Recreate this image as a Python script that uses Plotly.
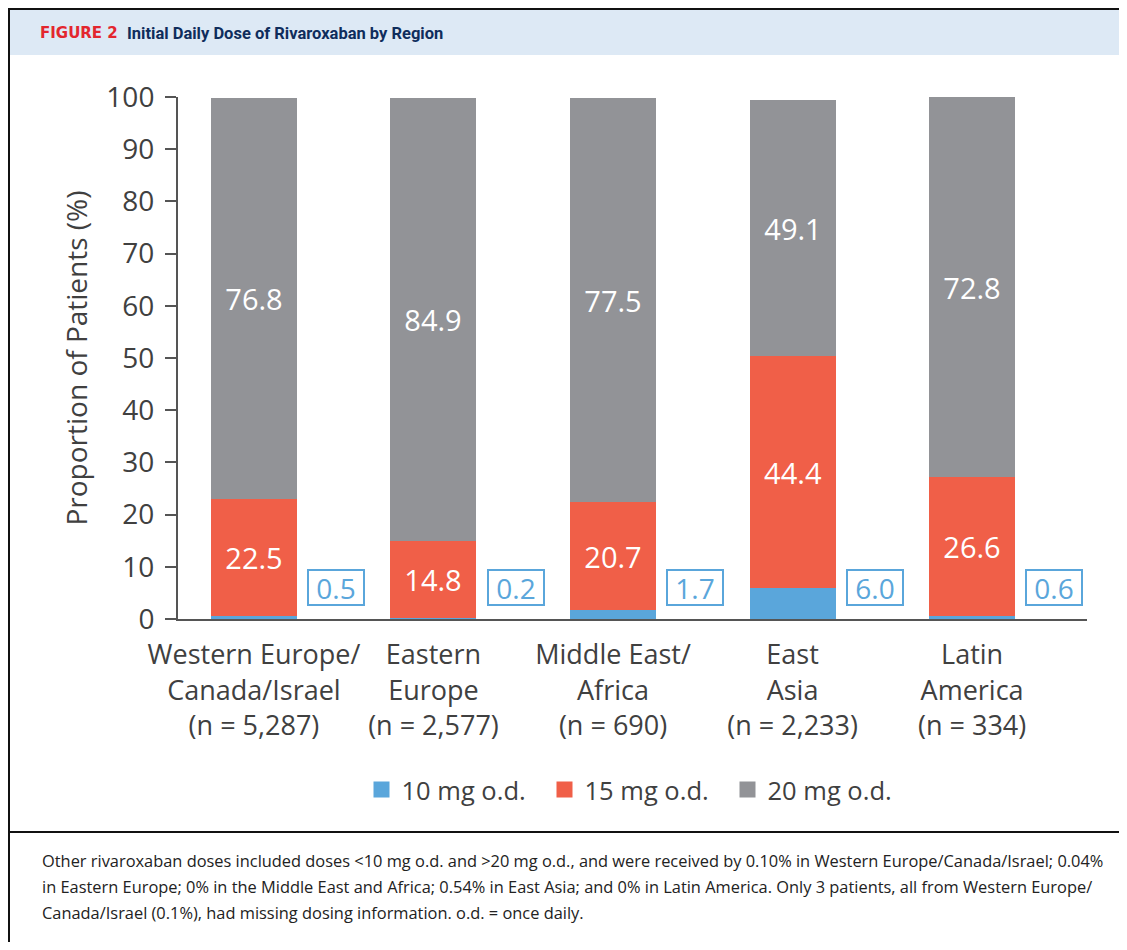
import plotly.graph_objects as go

# ---------------- data ----------------
regions = [
    "Western Europe/<br>Canada/Israel<br>(n = 5,287)",
    "Eastern<br>Europe<br>(n = 2,577)",
    "Middle East/<br>Africa<br>(n = 690)",
    "East<br>Asia<br>(n = 2,233)",
    "Latin<br>America<br>(n = 334)",
]
dose_10mg = [0.5, 0.2, 1.7, 6.0, 0.6]
dose_15mg = [22.5, 14.8, 20.7, 44.4, 26.6]
dose_20mg = [76.8, 84.9, 77.5, 49.1, 72.8]
series_names = ["10 mg o.d.", "15 mg o.d.", "20 mg o.d."]
y_ticks = [0, 10, 20, 30, 40, 50, 60, 70, 80, 90, 100]

caption_lines = [
    "Other rivaroxaban doses included doses &lt;10 mg o.d. and &gt;20 mg o.d., and were received by 0.10% in Western Europe/Canada/Israel; 0.04%",
    "in Eastern Europe; 0% in the Middle East and Africa; 0.54% in East Asia; and 0% in Latin America. Only 3 patients, all from Western Europe/",
    "Canada/Israel (0.1%), had missing dosing information. o.d. = once daily.",
]

# ---------------- style ----------------
BLUE = "#5aa6db"
RED = "#f05f48"
GRAY = "#929397"
TXT = "#404040"
FONT = "Open Sans"

OFF = 8  # page body margin
W_FIG, H_FIG = 1127 - OFF, 950 - 2 * OFF
PL, PR, PT, PB = 178 - OFF, 1087 - OFF, 97 - OFF, 619 - OFF


def px2x(px):  # px in reference-image coordinates
    return (px - OFF - PL) / (PR - PL)


def py2y(py):
    return (PB - (py - OFF)) / (PB - PT)


xpos = list(range(len(regions)))
bar_w = 0.479

fig = go.Figure()
fig.add_trace(go.Bar(x=xpos, y=dose_10mg, name=series_names[0], marker=dict(color=BLUE, line=dict(width=0)),
                     width=bar_w, showlegend=False, hoverinfo="y"))
fig.add_trace(go.Bar(x=xpos, y=dose_15mg, name=series_names[1], marker=dict(color=RED, line=dict(width=0)),
                     width=bar_w, showlegend=False, text=[f"{v:.1f}" for v in dose_15mg],
                     textposition="inside", insidetextanchor="middle", textangle=0,
                     constraintext="none", textfont=dict(color="white", size=29, family=FONT)))
fig.add_trace(go.Bar(x=xpos, y=dose_20mg, name=series_names[2], marker=dict(color=GRAY, line=dict(width=0)),
                     width=bar_w, showlegend=False, text=[f"{v:.1f}" for v in dose_20mg],
                     textposition="inside", insidetextanchor="middle", textangle=0,
                     constraintext="none", textfont=dict(color="white", size=29, family=FONT)))

# legend entries (square symbols)
for nm, col in zip(series_names, [BLUE, RED, GRAY]):
    fig.add_trace(go.Scatter(x=[None], y=[None], mode="markers", name=nm,
                             marker=dict(symbol="square", size=17, color=col)))

annotations = []
# boxed 10 mg labels
for i, v in enumerate(dose_10mg):
    annotations.append(dict(x=i + 0.457, y=6.13, xref="x", yref="y", text=f"{v:.1f}",
                            showarrow=False, font=dict(color=BLUE, size=28, family=FONT),
                            bordercolor=BLUE, borderwidth=2, borderpad=1, bgcolor="white",
                            width=52, height=31, align="center", valign="middle"))

# header
annotations.append(dict(x=px2x(38), y=py2y(33), xref="paper", yref="paper", xanchor="left", yanchor="middle",
                        text="<b>FIGURE 2</b>", showarrow=False,
                        font=dict(color="#e3262e", size=15, family="DejaVu Sans")))
annotations.append(dict(x=px2x(125), y=py2y(33), xref="paper", yref="paper", xanchor="left", yanchor="middle",
                        text="<b>Initial Daily Dose of Rivaroxaban by Region</b>", showarrow=False,
                        font=dict(color="#0f2d5c", size=16.5, family="Roboto")))
# caption
for k, line in enumerate(caption_lines):
    annotations.append(dict(x=px2x(40), y=py2y(860 + 26.5 * k), xref="paper", yref="paper",
                            xanchor="left", yanchor="middle", text=line, showarrow=False,
                            font=dict(color="#222222", size=16.4, family=FONT)))

RIGHT = px2x(1127)
shapes = [
    dict(type="rect", xref="paper", yref="paper", x0=px2x(8), x1=RIGHT, y0=py2y(55), y1=py2y(8),
         fillcolor="#dde9f5", line=dict(width=0), layer="below"),
    dict(type="line", xref="paper", yref="paper", x0=px2x(8), x1=RIGHT, y0=py2y(9), y1=py2y(9),
         line=dict(color="#111111", width=2)),
    dict(type="line", xref="paper", yref="paper", x0=px2x(9), x1=px2x(9), y0=py2y(8), y1=py2y(942),
         line=dict(color="#111111", width=2)),
    dict(type="line", xref="paper", yref="paper", x0=px2x(8), x1=RIGHT, y0=py2y(832), y1=py2y(832),
         line=dict(color="#111111", width=2)),
]

fig.update_layout(
    width=W_FIG, height=H_FIG,
    margin=dict(l=PL, r=W_FIG - PR, t=PT, b=H_FIG - PB, pad=0),
    paper_bgcolor="white", plot_bgcolor="white",
    barmode="stack", bargap=0,
    font=dict(family=FONT, color=TXT, size=26),
    showlegend=True,
    legend=dict(orientation="h", x=px2x(636), xanchor="center", y=py2y(790), yanchor="middle",
                traceorder="normal", entrywidth=138,
                font=dict(size=25.5, color=TXT, family=FONT), bgcolor="rgba(0,0,0,0)",
                itemclick=False, itemdoubleclick=False),
    xaxis=dict(range=[-0.423, 4.64], tickvals=xpos, ticktext=regions, showline=True,
               linecolor="#555555", linewidth=2, ticks="", showgrid=False, zeroline=False,
               tickfont=dict(size=27, color=TXT, family=FONT), ticklabelstandoff=11, fixedrange=True),
    yaxis=dict(range=[0, 100], tickvals=y_ticks, showline=True, linecolor="#555555", linewidth=2,
               ticks="outside", ticklen=11, tickwidth=2, tickcolor="#555555", showgrid=False,
               zeroline=False, tickfont=dict(size=28, color=TXT, family=FONT), ticklabelstandoff=5,
               title=dict(text="Proportion of Patients (%)", font=dict(size=28, color=TXT, family=FONT),
                          standoff=11), fixedrange=True),
    annotations=annotations,
    shapes=shapes,
)

fig.write_html("out.html", config={"displayModeBar": False})
